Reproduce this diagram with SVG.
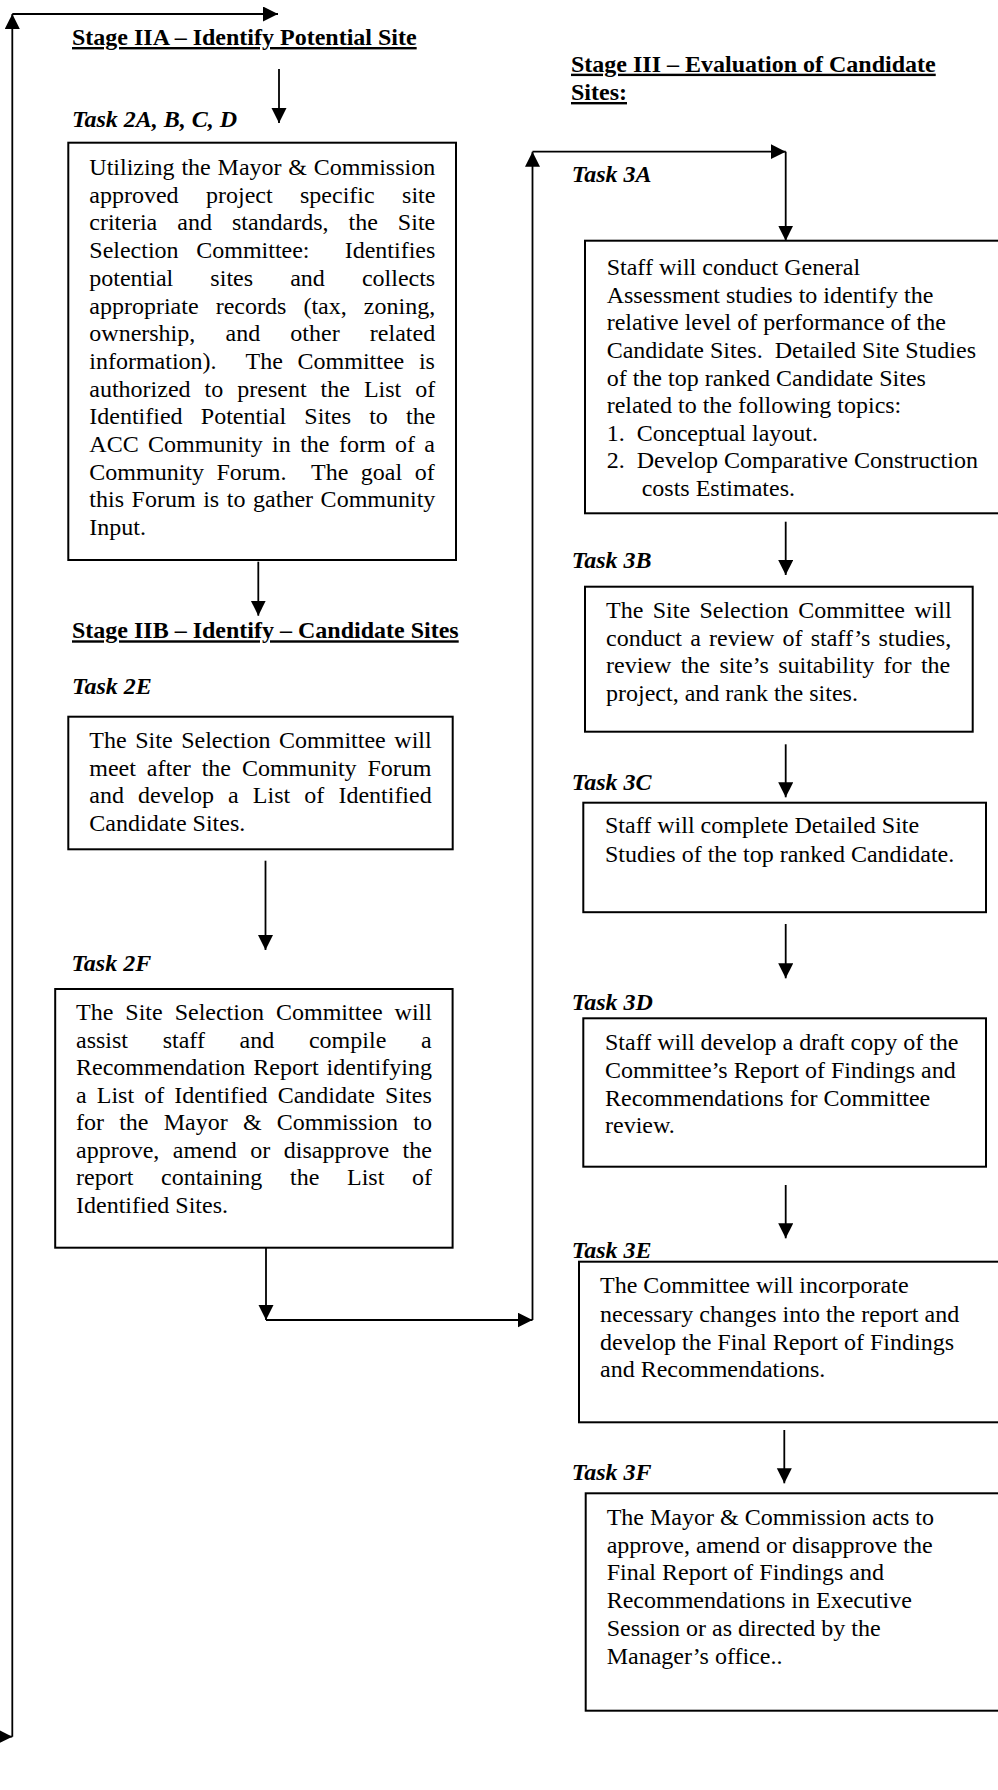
<svg xmlns="http://www.w3.org/2000/svg" width="998" height="1790" viewBox="0 0 998 1790">
<style>
text{font-family:"Liberation Serif","Times New Roman",serif;font-size:24px;fill:#000}
.h{font-weight:bold;text-decoration:underline}
.t{font-weight:bold;font-style:italic}
.box{fill:#fff;stroke:#000;stroke-width:2}
.ln{stroke:#000;stroke-width:1.8;fill:none}
.ar{stroke:#000;stroke-width:1.8;fill:none;marker-end:url(#ah)}
</style>
<defs>
<marker id="ah" markerUnits="userSpaceOnUse" markerWidth="16" markerHeight="16" refX="15" refY="7.5" orient="auto">
<path d="M0,0 L15,7.5 L0,15 Z" fill="#000"/>
</marker>
</defs>
<rect width="998" height="1790" fill="#fff"/>

<g id="connectors">
<line class="ar" x1="-20" y1="1736.7" x2="12.3" y2="1736.7"/>
<line class="ar" x1="12.3" y1="1736.7" x2="12.3" y2="14"/>
<line class="ar" x1="12.3" y1="14" x2="278" y2="14"/>
<line class="ar" x1="279" y1="69" x2="279" y2="123"/>
<line class="ar" x1="258.3" y1="561.7" x2="258.3" y2="615.7"/>
<line class="ar" x1="265.5" y1="860.7" x2="265.5" y2="950"/>
<line class="ar" x1="266" y1="1247.7" x2="266" y2="1320"/>
<line class="ar" x1="266" y1="1320" x2="532.5" y2="1320"/>
<line class="ar" x1="532.5" y1="1320" x2="532.5" y2="151.7"/>
<line class="ar" x1="532.5" y1="151.7" x2="785.7" y2="151.7"/>
<line class="ar" x1="785.7" y1="151.7" x2="785.7" y2="240.7"/>
<line class="ar" x1="785.7" y1="521.7" x2="785.7" y2="575"/>
<line class="ar" x1="785.7" y1="744.3" x2="785.7" y2="797.3"/>
<line class="ar" x1="785.7" y1="924" x2="785.7" y2="978.3"/>
<line class="ar" x1="785.7" y1="1185" x2="785.7" y2="1238.3"/>
<line class="ar" x1="784.3" y1="1430" x2="784.3" y2="1483.3"/>
</g>

<g id="stage2a">
<text class="h" x="72" y="45">Stage IIA – Identify Potential Site</text>
<text class="t" x="72" y="127">Task 2A, B, C, D</text>
</g>

<g id="task2a">
<rect class="box" x="68.3" y="142.7" width="387.7" height="417.3"/>
<text x="89.3" y="175" word-spacing="0.8">Utilizing the Mayor &amp; Commission</text>
<text x="89.3" y="202.7" word-spacing="21.4">approved project specific site</text>
<text x="89.3" y="230.4" word-spacing="14">criteria and standards, the Site</text>
<text x="89.3" y="258.1" word-spacing="11.6" xml:space="preserve">Selection Committee:  Identifies</text>
<text x="89.3" y="285.8" word-spacing="31.1">potential sites and collects</text>
<text x="89.3" y="313.5" word-spacing="11.1">appropriate records (tax, zoning,</text>
<text x="89.3" y="341.2" word-spacing="24.2">ownership, and other related</text>
<text x="89.3" y="368.9" word-spacing="8.7" xml:space="preserve">information).  The Committee is</text>
<text x="89.3" y="396.6" word-spacing="8">authorized to present the List of</text>
<text x="89.3" y="424.3" word-spacing="12.2">Identified Potential Sites to the</text>
<text x="89.3" y="452" word-spacing="3.4">ACC Community in the form of a</text>
<text x="89.3" y="479.7" word-spacing="6.5" xml:space="preserve">Community Forum.  The goal of</text>
<text x="89.3" y="507.4" word-spacing="1.6">this Forum is to gather Community</text>
<text x="89.3" y="535.1">Input.</text>
</g>

<g id="stage2b">
<text class="h" x="72" y="638.3">Stage IIB – Identify – Candidate Sites</text>
<text class="t" x="72" y="694">Task 2E</text>
</g>

<g id="task2e">
<rect class="box" x="68.3" y="716.7" width="384.4" height="132.6"/>
<text x="89.3" y="748.3" word-spacing="2.6">The Site Selection Committee will</text>
<text x="89.3" y="776" word-spacing="4.9">meet after the Community Forum</text>
<text x="89.3" y="803.3" word-spacing="8.1">and develop a List of Identified</text>
<text x="89.3" y="830.7">Candidate Sites.</text>
</g>

<g id="task2f">
<text class="t" x="71.4" y="970.7">Task 2F</text>
<rect class="box" x="55.2" y="989" width="397.4" height="258.7"/>
<text x="76" y="1020" word-spacing="6">The Site Selection Committee will</text>
<text x="76" y="1047.5" word-spacing="28.7">assist staff and compile a</text>
<text x="76" y="1075" word-spacing="2">Recommendation Report identifying</text>
<text x="76" y="1102.6" word-spacing="4.1">a List of Identified Candidate Sites</text>
<text x="76" y="1130.1" word-spacing="9.2">for the Mayor &amp; Commission to</text>
<text x="76" y="1157.7" word-spacing="7.5">approve, amend or disapprove the</text>
<text x="76" y="1185.2" word-spacing="21.7">report containing the List of</text>
<text x="76" y="1212.8">Identified Sites.</text>
</g>

<g id="stage3">
<text class="h" x="571" y="71.7">Stage III – Evaluation of Candidate</text>
<text class="h" x="571" y="100">Sites:</text>
</g>

<g id="task3a">
<text class="t" x="571.7" y="181.7">Task 3A</text>
<rect class="box" x="585" y="240.7" width="420" height="272.6"/>
<text x="606.7" y="275">Staff will conduct General</text>
<text x="606.7" y="302.7">Assessment studies to identify the</text>
<text x="606.7" y="330.3">relative level of performance of the</text>
<text x="606.7" y="358" xml:space="preserve">Candidate Sites.  Detailed Site Studies</text>
<text x="606.7" y="385.7">of the top ranked Candidate Sites</text>
<text x="606.7" y="413.3">related to the following topics:</text>
<text x="606.7" y="441">1.</text>
<text x="636.7" y="441">Conceptual layout.</text>
<text x="606.7" y="468.3">2.</text>
<text x="636.7" y="468.3">Develop Comparative Construction</text>
<text x="641.7" y="495.5">costs Estimates.</text>
</g>

<g id="task3b">
<text class="t" x="571.7" y="568.3">Task 3B</text>
<rect class="box" x="585" y="586.7" width="387.7" height="145"/>
<text x="606" y="618.3" word-spacing="3.4">The Site Selection Committee will</text>
<text x="606" y="645.7" word-spacing="2.2">conduct a review of staff’s studies,</text>
<text x="606" y="673.3" word-spacing="3.4">review the site’s suitability for the</text>
<text x="606" y="701">project, and rank the sites.</text>
</g>

<g id="task3c">
<text class="t" x="571.7" y="790">Task 3C</text>
<rect class="box" x="583.3" y="802.7" width="402.7" height="109.5"/>
<text x="605" y="833.3">Staff will complete Detailed Site</text>
<text x="605" y="861.7">Studies of the top ranked Candidate.</text>
</g>

<g id="task3d">
<text class="t" x="571.7" y="1010">Task 3D</text>
<rect class="box" x="583.3" y="1018.3" width="402.7" height="148.4"/>
<text x="605" y="1050">Staff will develop a draft copy of the</text>
<text x="605" y="1078.3">Committee’s Report of Findings and</text>
<text x="605" y="1105.7">Recommendations for Committee</text>
<text x="605" y="1133.3">review.</text>
</g>

<g id="task3e">
<rect class="box" x="579" y="1261.7" width="430" height="160.6"/>
<text class="t" x="571.7" y="1258.3">Task 3E</text>
<text x="600" y="1293.3">The Committee will incorporate</text>
<text x="600" y="1321.7">necessary changes into the report and</text>
<text x="600" y="1349.5">develop the Final Report of Findings</text>
<text x="600" y="1377.3">and Recommendations.</text>
</g>

<g id="task3f">
<text class="t" x="571.7" y="1480">Task 3F</text>
<rect class="box" x="585.7" y="1493.3" width="420" height="217.4"/>
<text x="606.7" y="1525">The Mayor &amp; Commission acts to</text>
<text x="606.7" y="1552.7">approve, amend or disapprove the</text>
<text x="606.7" y="1580.4">Final Report of Findings and</text>
<text x="606.7" y="1608.1">Recommendations in Executive</text>
<text x="606.7" y="1635.8">Session or as directed by the</text>
<text x="606.7" y="1663.5">Manager’s office..</text>
</g>
</svg>
